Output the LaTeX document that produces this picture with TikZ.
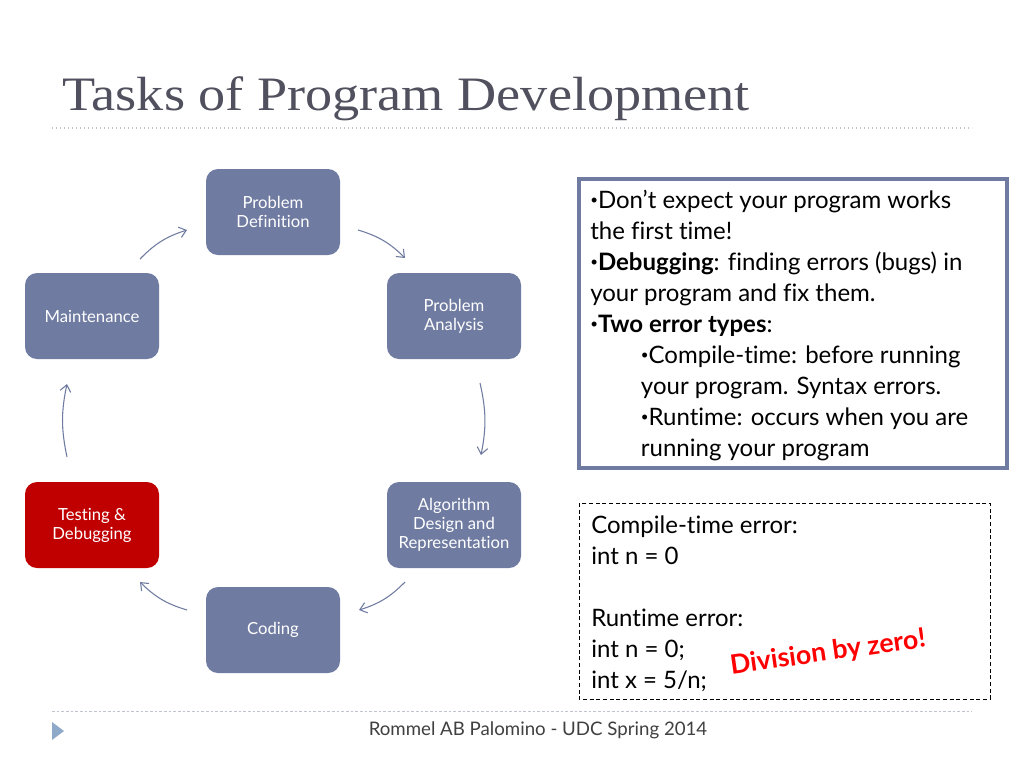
\documentclass[tikz,border=0pt]{standalone}
\usepackage{fontspec}
\setmainfont{Lato}[Ligatures=NoCommon]
\newfontfamily\titlefont{Liberation Serif}
\usetikzlibrary{arrows.meta}
\definecolor{slate}{RGB}{111,123,161}
\definecolor{redbox}{RGB}{192,0,0}
\definecolor{titlegray}{RGB}{80,80,94}
\definecolor{footblue}{RGB}{143,169,200}
\definecolor{dotgray}{RGB}{190,195,205}
\newcommand\mybul{\raisebox{0.3ex}{\fontsize{10}{10}\selectfont\textbullet}}
\tikzset{
  task/.style={fill=slate, rounded corners=9pt, minimum width=100.5pt, minimum height=64.5pt,
    text=white, align=center, font=\fontsize{12.5}{14.2}\selectfont, inner sep=2pt},
  redtask/.style={task, fill=redbox},
  arr/.style={draw=slate, line width=0.8pt, -{Straight Barb[length=5pt,width=8pt]}},
  body/.style={font=\fontsize{18}{23.2}\selectfont, align=left, inner sep=0pt, anchor=north west}
}
\begin{document}
\begin{tikzpicture}[x=0.75pt,y=-0.75pt]
\useasboundingbox (0,0) rectangle (1024,768);
\fill[white] (0,0) rectangle (1024,768);
% title
\node[anchor=base west, inner sep=0pt, text=titlegray, xscale=1.13, font=\titlefont\fontsize{36}{40}\selectfont] (title) at (62,110) {Tasks of Program Development};
\draw[dotgray, dotted, line width=1pt] (52,128) coordinate (tl1) -- (972,128) coordinate (tl2);
% tasks
\node[task] (pd) at (273,212) {Problem\\Definition};
\node[task] (pa) at (454,316) {Problem\\Analysis};
\node[task] (ad) at (454,525) {Algorithm\\Design and\\Representation};
\node[task] (co) at (273,630) {Coding};
\node[redtask] (td) at (92,525) {Testing \&\\Debugging};
\node[task] (mt) at (92,316) {Maintenance};
% arrow ends
\coordinate (a1s) at (140,259); \coordinate (a1e) at (187,230);
\coordinate (a2s) at (358,230); \coordinate (a2e) at (405,258);
\coordinate (a3s) at (480,383); \coordinate (a3e) at (481,455);
\coordinate (a4s) at (405,582); \coordinate (a4e) at (359,610);
\coordinate (a5s) at (187,610); \coordinate (a5e) at (140,582);
\coordinate (a6s) at (67,457); \coordinate (a6e) at (67,384);
\draw[arr] (a1s) to[bend left=14] (a1e);
\draw[arr] (a2s) to[bend left=14] (a2e);
\draw[arr] (a3s) to[bend left=12] (a3e);
\draw[arr] (a4s) to[bend left=14] (a4e);
\draw[arr] (a5s) to[bend left=14] (a5e);
\draw[arr] (a6s) to[bend left=12] (a6e);
% bullet box
\draw[slate, line width=2.4pt] (579,179) rectangle (1007,468);
\node[body] (bul) at (590,190) {%
\mybul Don’t expect your program works\\
the first time!\\
\mybul\textbf{Debugging}: finding errors (bugs) in\\
your program and fix them.\\
\mybul\textbf{Two error types}:\\
\hspace*{38pt}\mybul Compile-time: before running\\
\hspace*{38pt}your program. Syntax errors.\\
\hspace*{38pt}\mybul Runtime: occurs when you are\\
\hspace*{38pt}running your program};
% example box
\draw[black, line width=0.6pt, dash pattern=on 3pt off 2pt] (579,503) rectangle (990,699);
\node[body] (ex) at (591,516) {%
Compile-time error:\\
int n = 0\\[23.2pt]
Runtime error:\\
int n = 0;\\
int x = 5/n;};
\node[text=red, font=\bfseries\fontsize{20}{22}\selectfont, rotate=8, inner sep=0pt] (dz) at (828,653) {Division by zero!};
% footer
\draw[dotgray, dash pattern=on 2pt off 1.5pt, line width=0.6pt] (52,711) coordinate (fl1) -- (972,711) coordinate (fl2);
\fill[footblue] (52,722) -- (64,731) -- (52,740) -- cycle;
\node[text=black!75, font=\fontsize{14}{16}\selectfont, inner sep=0pt] (foot) at (538,730) {Rommel AB Palomino - UDC Spring 2014};
\end{tikzpicture}
\end{document}
